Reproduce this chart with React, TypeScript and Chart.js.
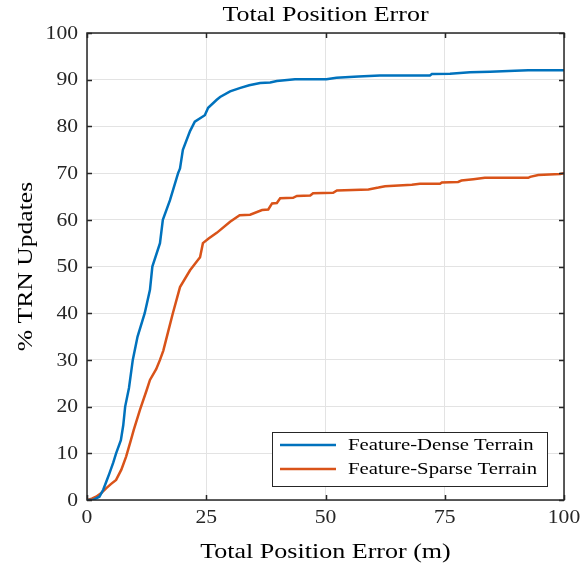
import React, { useEffect, useRef } from "react";
import { Chart, registerables } from "chart.js";

Chart.register(...registerables);

const chartTitle = "Total Position Error";
const xTitle = "Total Position Error (m)";
const yTitle = "% TRN Updates";
const seriesNames = ["Feature-Dense Terrain", "Feature-Sparse Terrain"];
const xTicks = [0, 25, 50, 75, 100];
const yTicks = [0, 10, 20, 30, 40, 50, 60, 70, 80, 90, 100];

const denseX = [0, 1.2, 2.6, 3.4, 4, 4.7, 5.5, 6.1, 7.1, 7.6, 8, 8.8, 9.6, 10.6, 12.1, 13.2, 13.7, 15.3, 15.9, 17.4, 19.1, 19.5, 20.1, 21.6, 22.6, 24.7, 25.4, 27.2, 27.9, 30, 32, 34, 36.3, 38.4, 39.8, 43.6, 50.2, 52.3, 56.9, 61.4, 71.9, 72.3, 76.1, 80.3, 84.5, 89.7, 92.5, 100];
const denseY = [0, 0, 0.7, 2.2, 3.8, 5.7, 8, 10, 12.8, 16, 20, 24, 30, 35, 40, 45, 50, 55, 60, 64.2, 70, 71, 75, 79, 81, 82.4, 84, 85.7, 86.3, 87.5, 88.2, 88.8, 89.3, 89.4, 89.7, 90.1, 90.1, 90.4, 90.7, 90.9, 90.9, 91.2, 91.3, 91.6, 91.7, 91.9, 92, 92];

const sparseX = [0, 1, 1.9, 3, 4, 5, 6.1, 7.2, 8.2, 9.2, 9.8, 11.1, 12.5, 13.2, 14.5, 15.3, 16, 17, 18, 19.5, 21.6, 23.7, 24.3, 25.5, 27.2, 30, 32, 34.2, 36.7, 38, 38.8, 39.8, 40.5, 43.2, 44, 46.8, 47.4, 51.6, 52.4, 59, 61.1, 62.5, 68.1, 69.8, 74, 74.4, 77.8, 78.5, 81, 83.4, 92.5, 92.9, 94.6, 99.2, 100];
const sparseY = [0, 0.3, 0.7, 1.5, 2.5, 3.4, 4.3, 6.5, 9.3, 12.8, 15, 19.3, 23.5, 25.7, 28, 30, 32, 36, 40, 45.6, 49.2, 52, 55, 56, 57.2, 59.6, 61, 61.1, 62.1, 62.2, 63.5, 63.6, 64.6, 64.7, 65.1, 65.2, 65.7, 65.8, 66.3, 66.5, 66.9, 67.2, 67.5, 67.7, 67.7, 68, 68.1, 68.4, 68.7, 69, 69, 69.2, 69.6, 69.8, 70];

const colors = ["#0072BD", "#D95319"];
const FONT = "'Liberation Serif', 'Times New Roman', serif";
const AXIS = "#262626";

function drawText(ctx: any, text: string, x: number, y: number, sx: number, align: string, baseline: string) {
  ctx.save();
  ctx.translate(x, y);
  ctx.scale(sx, 1);
  ctx.textAlign = align;
  ctx.textBaseline = baseline;
  ctx.fillText(text, 0, 0);
  ctx.restore();
}

const decorPlugin = {
  id: "decor",
  afterDraw(chart: any) {
    const ctx = chart.ctx;
    const { left, right, top, bottom } = chart.chartArea;
    const xs = chart.scales.x;
    const ys = chart.scales.y;
    ctx.save();
    // box
    ctx.strokeStyle = AXIS;
    ctx.lineWidth = 1.5;
    ctx.strokeRect(left, top, right - left, bottom - top);
    // inward ticks
    ctx.beginPath();
    xTicks.forEach((v) => {
      const px = Math.round(xs.getPixelForValue(v)) + 0.5;
      ctx.moveTo(px, bottom);
      ctx.lineTo(px, bottom - 5);
      ctx.moveTo(px, top);
      ctx.lineTo(px, top + 5);
    });
    yTicks.forEach((v) => {
      const py = Math.round(ys.getPixelForValue(v)) + 0.5;
      ctx.moveTo(left, py);
      ctx.lineTo(left + 5, py);
      ctx.moveTo(right, py);
      ctx.lineTo(right - 5, py);
    });
    ctx.stroke();

    // tick labels
    ctx.fillStyle = AXIS;
    ctx.font = `18px ${FONT}`;
    yTicks.forEach((v) => {
      drawText(ctx, String(v), left - 9, ys.getPixelForValue(v) + 1, 1.2, "right", "middle");
    });
    xTicks.forEach((v) => {
      drawText(ctx, String(v), xs.getPixelForValue(v), bottom + 9, 1.2, "center", "top");
    });

    // titles
    ctx.fillStyle = "#000";
    ctx.font = `21px ${FONT}`;
    drawText(ctx, xTitle, (left + right) / 2, 558, 1.24, "center", "alphabetic");
    ctx.font = `20px ${FONT}`;
    drawText(ctx, chartTitle, (left + right) / 2, 21, 1.3, "center", "alphabetic");
    ctx.save();
    ctx.translate(32, (top + bottom) / 2);
    ctx.rotate(-Math.PI / 2);
    ctx.font = `21px ${FONT}`;
    drawText(ctx, yTitle, 0, 0, 1.22, "center", "alphabetic");
    ctx.restore();

    // legend
    const lx = 272, ly = 432, lw = 275, lh = 54;
    ctx.fillStyle = "#fff";
    ctx.fillRect(lx, ly, lw, lh);
    ctx.strokeStyle = AXIS;
    ctx.lineWidth = 1;
    ctx.strokeRect(lx + 0.5, ly + 0.5, lw, lh);
    ctx.font = `17px ${FONT}`;
    seriesNames.forEach((name, i) => {
      const cy = ly + 13 + i * 24;
      ctx.strokeStyle = colors[i];
      ctx.lineWidth = 2.5;
      ctx.beginPath();
      ctx.moveTo(280, cy);
      ctx.lineTo(336, cy);
      ctx.stroke();
      ctx.fillStyle = "#000";
      drawText(ctx, name, 348, cy + 1, 1.22, "left", "middle");
    });
    ctx.restore();
  },
};

export default function App() {
  const ref = useRef<HTMLCanvasElement | null>(null);
  useEffect(() => {
    if (!ref.current) return;
    const chart = new Chart(ref.current, {
      type: "line",
      data: {
        datasets: [
          {
            label: seriesNames[0],
            data: denseX.map((x, i) => ({ x, y: denseY[i] })),
            borderColor: colors[0],
            borderWidth: 2.5,
            pointRadius: 0,
            tension: 0,
          },
          {
            label: seriesNames[1],
            data: sparseX.map((x, i) => ({ x, y: sparseY[i] })),
            borderColor: colors[1],
            borderWidth: 2.5,
            pointRadius: 0,
            tension: 0,
          },
        ],
      },
      options: {
        animation: false,
        responsive: false,
        layout: { padding: { top: 33, right: 18, left: 0, bottom: 0 } },
        plugins: { legend: { display: false }, title: { display: false }, tooltip: { enabled: false } },
        scales: {
          x: {
            type: "linear",
            min: 0,
            max: 100,
            afterFit: (s: any) => { s.height = 67; s.paddingLeft = 0; s.paddingRight = 0; },
            ticks: { stepSize: 25, display: false },
            grid: { color: "#e3e3e3", drawTicks: false },
            border: { display: false },
          },
          y: {
            type: "linear",
            min: 0,
            max: 100,
            afterFit: (s: any) => { s.width = 87; s.paddingTop = 0; s.paddingBottom = 0; },
            ticks: { stepSize: 10, display: false },
            grid: { color: "#e3e3e3", drawTicks: false },
            border: { display: false },
          },
        },
      },
      plugins: [decorPlugin],
    } as any);
    return () => chart.destroy();
  }, []);
  return (
    <div style={{ position: "absolute", left: 0, top: 0, width: 582, height: 567, background: "#fff" }}>
      <canvas ref={ref} width={582} height={567} style={{ display: "block" }} />
    </div>
  );
}
